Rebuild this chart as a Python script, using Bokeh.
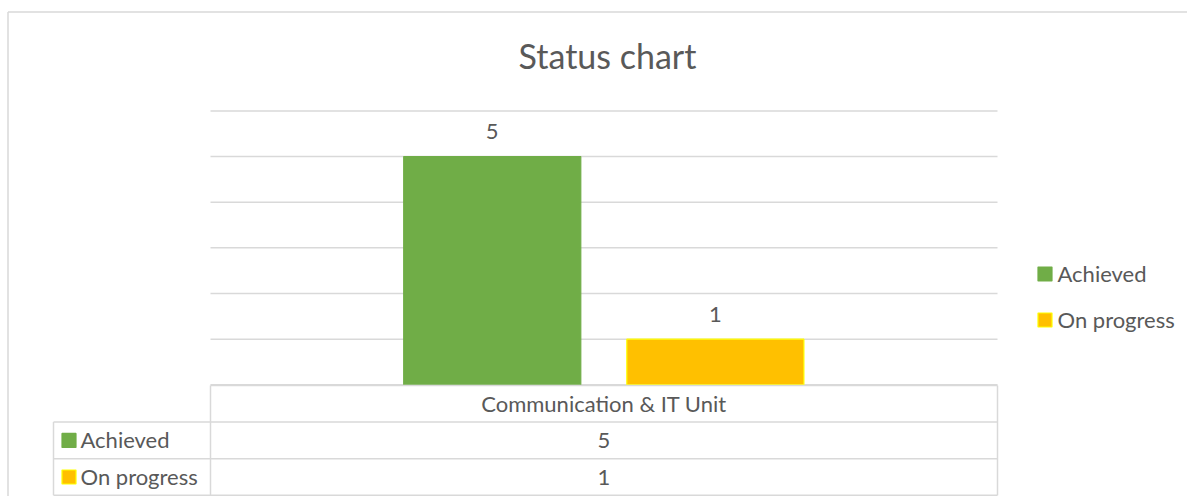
from bokeh.plotting import figure
from bokeh.models import Range1d
from bokeh.core.properties import value
from bokeh.embed import file_html
from bokeh.resources import INLINE

# ---------------- data ----------------
title_text = "Status chart"
categories = ["Communication & IT Unit"]
series_names = ["Achieved", "On progress"]
achieved = [5]
on_progress = [1]
series_values = [achieved, on_progress]
series_colors = ["#70AD47", "#FFC000"]
series_lines = ["#70AD47", "#FFFF00"]
y_ticks = [0, 1, 2, 3, 4, 5, 6]

# ---------------- layout (pixels) ----------------
W, H = 1187, 496
CAT_CX = 603.5        # x of category centre
CAT_W = 787.0         # px per category
ZERO_Y = 384.3        # y of value 0
UNIT = 45.65          # px per value unit
FONT = value("Lato")
TXT = "#595959"
GRID = "#D9D9D9"


def px2x(px):
    return (px - CAT_CX) / CAT_W


def py2y(py):
    return (ZERO_Y - py) / UNIT


p = figure(width=W, height=H, output_backend="svg", toolbar_location=None,
           x_range=Range1d(px2x(0), px2x(W)),
           y_range=Range1d(py2y(H), py2y(0)),
           min_border=0, tools="")
p.axis.visible = False
p.xgrid.visible = False
p.ygrid.visible = False
p.outline_line_color = None
p.background_fill_color = "white"
p.border_fill_color = "white"

# outer chart border (left & top)
p.segment(x0=[px2x(7.5), px2x(7.5)], y0=[py2y(11.5), py2y(11.5)],
          x1=[px2x(W), px2x(7.5)], y1=[py2y(11.5), py2y(H)],
          line_color=GRID, line_width=1.5)

# gridlines
ncat = len(categories)
p.segment(x0=[-0.5] * len(y_ticks), y0=y_ticks,
          x1=[ncat - 0.5] * len(y_ticks), y1=y_ticks,
          line_color=GRID, line_width=1.5)

# title
p.text(x=[px2x(607)], y=[py2y(55)], text=[title_text], text_font=FONT,
       text_font_size="34px", text_color=TXT, text_align="center",
       text_baseline="middle")

# bars
bar_w = 0.225
offsets = [-0.142, 0.1415]
for name, vals, col, lc, off in zip(series_names, series_values, series_colors,
                                    series_lines, offsets):
    xs = [i + off for i in range(ncat)]
    p.vbar(x=xs, top=vals, bottom=0, width=bar_w, fill_color=col,
           line_color=lc, line_width=1.2)
    p.text(x=xs, y=[v + 0.55 for v in vals], text=[str(v) for v in vals],
           text_font=FONT, text_font_size="22px", text_color=TXT,
           text_align="center", text_baseline="middle")

# legend (right)
leg_y = [273.5, 319.5]
for name, col, lc, ly in zip(series_names, series_colors, series_lines, leg_y):
    p.scatter(x=[px2x(1044.5)], y=[py2y(ly)], marker="square", size=14,
              fill_color=col, line_color=lc, line_width=1.2)
    p.text(x=[px2x(1057)], y=[py2y(ly - 1)], text=[name], text_font=FONT,
           text_font_size="22px", text_color=TXT, text_align="left",
           text_baseline="middle")

# data table
TBL_TOP = 385.0
ROW_H = 36.6
TBL_L = 53.0
TBL_C = 210.0
TBL_R = 997.0
nrows = len(series_names)
row_ys = [TBL_TOP + ROW_H * (k + 1) for k in range(nrows + 1)]
hx0 = [px2x(TBL_C)] + [px2x(TBL_L)] * len(row_ys)
hx1 = [px2x(TBL_R)] * (len(row_ys) + 1)
hy = [py2y(TBL_TOP)] + [py2y(r) for r in row_ys]
p.segment(x0=hx0, y0=hy, x1=hx1, y1=hy, line_color=GRID, line_width=1.5)
bottom = row_ys[-1]
p.segment(x0=[px2x(TBL_L), px2x(TBL_C), px2x(TBL_R)],
          y0=[py2y(row_ys[0]), py2y(TBL_TOP), py2y(TBL_TOP)],
          x1=[px2x(TBL_L), px2x(TBL_C), px2x(TBL_R)],
          y1=[py2y(bottom)] * 3, line_color=GRID, line_width=1.5)
# header
p.text(x=list(range(ncat)), y=[py2y(TBL_TOP + ROW_H / 2)] * ncat,
       text=categories, text_font=FONT, text_font_size="22px",
       text_color=TXT, text_align="center", text_baseline="middle")
# rows
for k, (name, vals, col, lc) in enumerate(zip(series_names, series_values,
                                              series_colors, series_lines)):
    cy = TBL_TOP + ROW_H * (k + 1.5)
    p.scatter(x=[px2x(68.5)], y=[py2y(cy)], marker="square", size=14,
              fill_color=col, line_color=lc, line_width=1.2)
    p.text(x=[px2x(80)], y=[py2y(cy - 1)], text=[name], text_font=FONT,
           text_font_size="22px", text_color=TXT, text_align="left",
           text_baseline="middle")
    p.text(x=list(range(ncat)), y=[py2y(cy)] * ncat,
           text=[str(v) for v in vals], text_font=FONT,
           text_font_size="22px", text_color=TXT, text_align="center",
           text_baseline="middle")

open("out.html", "w").write(file_html(p, INLINE))
